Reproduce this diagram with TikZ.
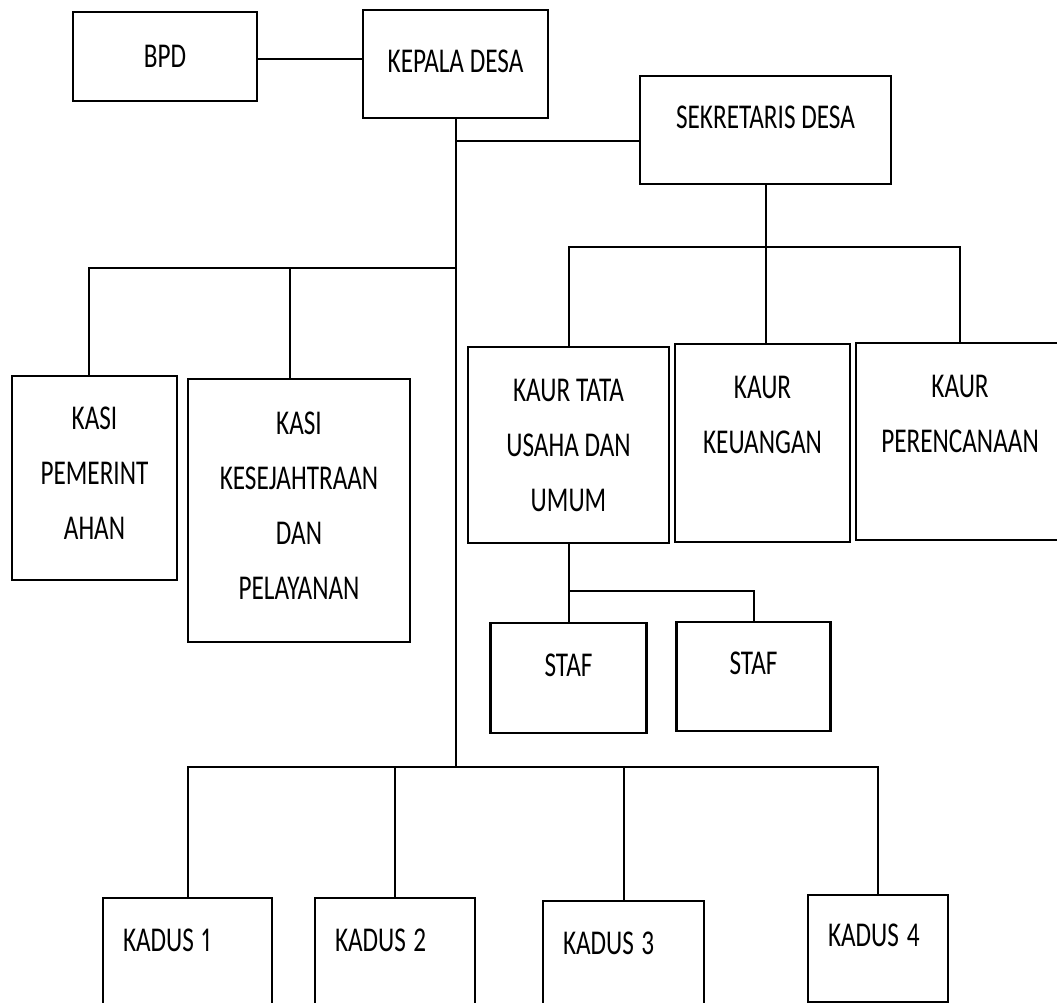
\documentclass[tikz,border=0pt]{standalone}
\usepackage{fontspec}
\setmainfont{Carlito}[FakeStretch=0.725, Numbers=Proportional]
\usetikzlibrary{positioning}
\tikzset{
    %Define style for boxes
    kotak/.style={
           rectangle,
           draw=black, line width=1.3pt,
           inner sep=0pt, outer sep=0pt,
           align=center,
           font=\fontsize{17.4pt}{27.5pt}\selectfont},
    %Define style for boxes with text on the left
    kotakkiri/.style={
           kotak,
           align=left,
           inner xsep=10pt},
    % Define line style
    garis/.style={
           line width=1pt}
}
\begin{document}
\begin{tikzpicture}
    \useasboundingbox (0,0) rectangle (528.5pt,-501.5pt);
    % top row
    \node[kotak, anchor=north west, minimum width=92pt, minimum height=44.5pt] (bpd) at (36.5pt,-6pt) {BPD};
    \node[kotak, minimum width=92.5pt, minimum height=54pt, text depth=3pt, below right=-1pt and 53pt of bpd.north east] (kepala) {KEPALA DESA};
    \node[kotak, minimum width=125.5pt, minimum height=54pt, text depth=12.5pt, below right=33pt and 46pt of kepala.north east] (sekdes) {SEKRETARIS DESA};
    % kasi
    \node[kotak, minimum width=82.5pt, minimum height=102pt, text depth=4.5pt, below left=137.5pt and 40pt of bpd.south east] (kasipem) {KASI\\PEMERINT\\AHAN};
    \node[kotak, minimum width=111pt, minimum height=131.5pt, text depth=5pt, below right=1.5pt and 5.5pt of kasipem.north east] (kasikes) {KASI\\KESEJAHTRAAN\\DAN\\PELAYANAN};
    % kaur
    \node[kotak, minimum width=87.5pt, minimum height=99pt, text depth=28.5pt, below=80pt of sekdes, xshift=-1.5pt] (kaurkeu) {KAUR\\KEUANGAN};
    \node[kotak, minimum width=100.5pt, minimum height=98pt, below left=1.5pt and 3pt of kaurkeu.north west] (kaurtu) {KAUR TATA\\USAHA DAN\\UMUM};
    \node[kotak, minimum width=104pt, minimum height=98.5pt, text depth=28pt, below right=-0.5pt and 3pt of kaurkeu.north east] (kaurren) {KAUR\\PERENCANAAN};
    % staf
    \node[kotak, minimum width=78pt, minimum height=55pt, text depth=13pt, below=40pt of kaurtu] (staf1) {STAF};
    \node[kotak, minimum width=77pt, minimum height=54.5pt, text depth=13pt, below right=-0.5pt and 15pt of staf1.north east] (staf2) {STAF};
    % kadus
    \node[kotakkiri, text width=64.5pt, minimum height=55pt, text depth=13pt, below left=128pt and 13.5pt of kasikes.south] (kadus1) {KADUS\hspace{-2pt} 1};
    \node[kotakkiri, text width=60pt, minimum height=55pt, text depth=13pt, below right=0pt and 21.5pt of kadus1.north east] (kadus2) {KADUS\hspace{-2pt} 2};
    \node[kotakkiri, text width=60.5pt, minimum height=55pt, text depth=13pt, below right=1.5pt and 34pt of kadus2.north east] (kadus3) {KADUS\hspace{-2pt} 3};
    \node[kotakkiri, text width=50pt, minimum height=53.5pt, text depth=13pt, below right=-3pt and 52pt of kadus3.north east] (kadus4) {KADUS\hspace{-2pt} 4};

    \coordinate (cabang1) at ([yshift=-11.5pt]kepala.south);
    \coordinate (cabang2) at ([yshift=-75pt]kepala.south);
    \coordinate (cabang3) at ([yshift=-324.5pt]kepala.south);
    \coordinate (cabang4) at ([yshift=-31.5pt]sekdes.south);
    \coordinate (cabang5) at ([yshift=-24pt]kaurtu.south);

    \draw[garis] ([yshift=-1.25pt]bpd.east) -- ([yshift=-1.25pt]bpd.east -| kepala.west);
    \draw[garis] (kepala.south) -- (cabang3);
    \draw[garis] (cabang1) -- (cabang1 -| sekdes.west);
    \draw[garis] ([xshift=-2.75pt]kasipem.north) |- (cabang2);
    \draw[garis] ([xshift=-4.5pt]kasikes.north) |- (cabang2);
    \draw[garis] (sekdes.south) -- (cabang4);
    \draw[garis] (kaurtu.north) |- (cabang4) -| (kaurren.north);
    \draw[garis] (cabang4) -- (cabang4 |- kaurkeu.north);
    \draw[garis] (kaurtu.south) -- (kaurtu.south |- staf1.north);
    \draw[garis] (cabang5) -| (staf2.north);
    \draw[garis] (kadus1.north) |- (cabang3) -| (kadus4.north);
    \draw[garis] (kadus2.north) -- (kadus2.north |- cabang3);
    \draw[garis] (kadus3.north) -- (kadus3.north |- cabang3);
\end{tikzpicture}
\end{document}
